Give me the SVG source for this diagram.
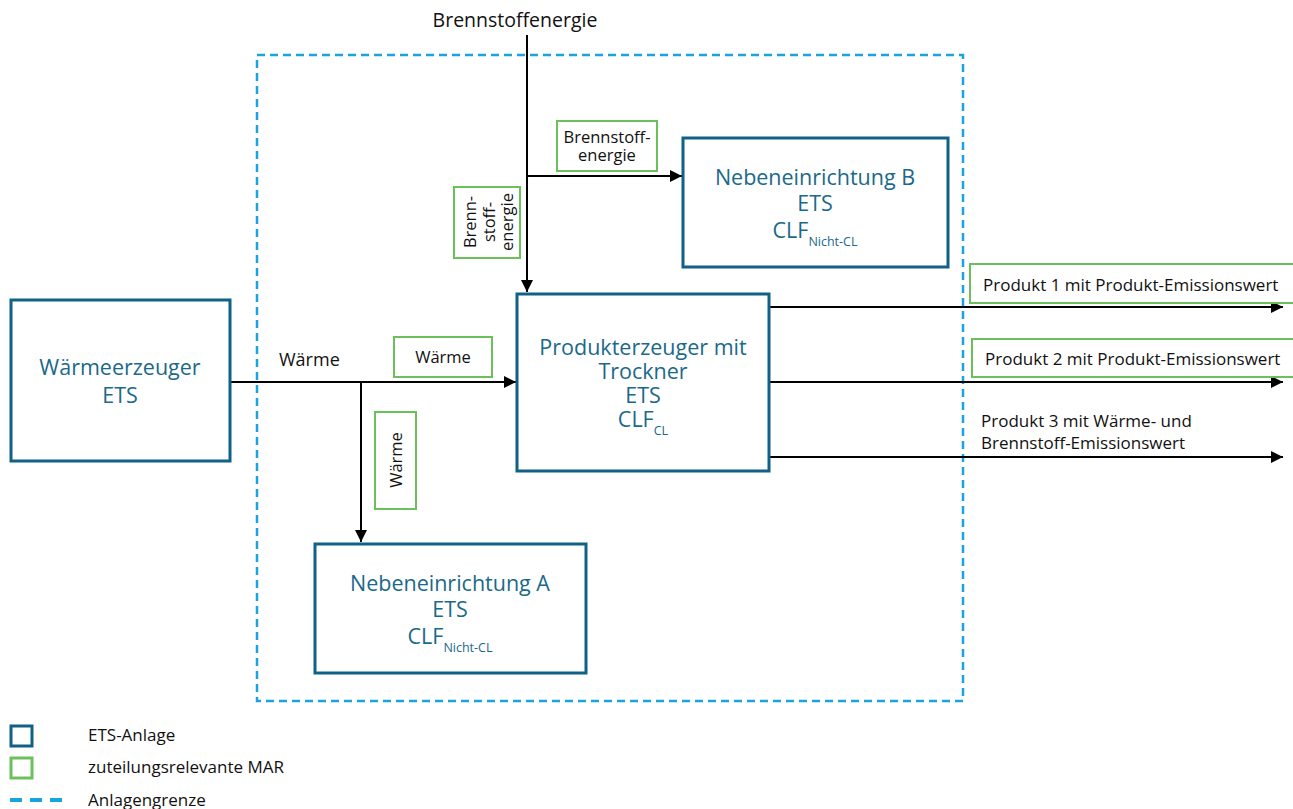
<svg xmlns="http://www.w3.org/2000/svg" width="1293" height="809" viewBox="0 0 1293 809">
  <style>
    text { font-family: "Open Sans", "Noto Sans", sans-serif; }
    .ets { fill: #ffffff; stroke: #0f6286; stroke-width: 3; }
    .mar { fill: #ffffff; stroke: #6cc05c; stroke-width: 2; }
    .bound { fill: none; stroke: #1ba3df; stroke-width: 2.5; stroke-dasharray: 8 5; }
    .flow { fill: none; stroke: #000000; stroke-width: 2; }
    .big { fill: #1a6989; font-size: 21.5px; text-anchor: middle; }
    .sub { font-size: 12.5px; }
    .lbl { fill: #111111; font-size: 17px; }
    .lblc { fill: #111111; font-size: 16.5px; text-anchor: middle; }
  </style>
  <defs>
    <marker id="arrow" viewBox="0 0 12 12" refX="12" refY="6" markerWidth="12" markerHeight="12" markerUnits="userSpaceOnUse" orient="auto">
      <path d="M0,0 L12,6 L0,12 Z" fill="#000000"/>
    </marker>
  </defs>

  <rect width="1293" height="809" fill="#ffffff"/>

  <!-- installation boundary -->
  <rect id="anlagengrenze" class="bound" x="257" y="55" width="706" height="646"/>

  <!-- connectors -->
  <g id="connectors">
    <line class="flow" x1="527" y1="35" x2="527" y2="292" marker-end="url(#arrow)"/>
    <line class="flow" x1="527" y1="176" x2="682" y2="176" marker-end="url(#arrow)"/>
    <line class="flow" x1="231" y1="382" x2="516" y2="382" marker-end="url(#arrow)"/>
    <line class="flow" x1="361" y1="382" x2="361" y2="542" marker-end="url(#arrow)"/>
    <line class="flow" x1="769" y1="307" x2="1283" y2="307" marker-end="url(#arrow)"/>
    <line class="flow" x1="769" y1="382" x2="1283" y2="382" marker-end="url(#arrow)"/>
    <line class="flow" x1="769" y1="457" x2="1283" y2="457" marker-end="url(#arrow)"/>
  </g>

  <!-- flow labels -->
  <text class="lblc" x="515" y="27" style="font-size:19.5px">Brennstoffenergie</text>
  <text class="lbl" x="279" y="366" style="font-size:18px">Wärme</text>
  <text class="lbl" x="981" y="427">Produkt 3 mit Wärme- und</text>
  <text class="lbl" x="981" y="449">Brennstoff-Emissionswert</text>

  <!-- allocation-relevant sub-installation labels -->
  <g id="mar-brennstoff-h">
    <rect class="mar" x="557" y="121" width="100" height="50"/>
    <text class="lblc" x="607" y="143">Brennstoff-</text>
    <text class="lblc" x="607" y="161">energie</text>
  </g>
  <g id="mar-brennstoff-v">
    <rect class="mar" x="454" y="187" width="66" height="71"/>
    <g transform="translate(487,222) rotate(-90)">
      <text class="lblc" x="0" y="-11">Brenn-</text>
      <text class="lblc" x="0" y="8">stoff-</text>
      <text class="lblc" x="0" y="26">energie</text>
    </g>
  </g>
  <g id="mar-waerme-h">
    <rect class="mar" x="394" y="337" width="98" height="40"/>
    <text class="lblc" x="443" y="363">Wärme</text>
  </g>
  <g id="mar-waerme-v">
    <rect class="mar" x="375" y="412" width="41" height="97"/>
    <text class="lblc" transform="translate(402,460) rotate(-90)">Wärme</text>
  </g>
  <g id="mar-produkt1">
    <rect class="mar" x="970" y="264" width="330" height="39"/>
    <text class="lbl" x="983" y="291">Produkt 1 mit Produkt-Emissionswert</text>
  </g>
  <g id="mar-produkt2">
    <rect class="mar" x="972" y="339" width="330" height="38"/>
    <text class="lbl" x="985" y="365">Produkt 2 mit Produkt-Emissionswert</text>
  </g>

  <!-- ETS installations -->
  <g id="waermeerzeuger">
    <rect class="ets" x="11" y="300" width="219" height="161"/>
    <text class="big" x="120" y="375">Wärmeerzeuger</text>
    <text class="big" x="120" y="403">ETS</text>
  </g>
  <g id="produkterzeuger">
    <rect class="ets" x="517" y="294" width="252" height="177"/>
    <text class="big" x="643" y="355">Produkterzeuger mit</text>
    <text class="big" x="643" y="379">Trockner</text>
    <text class="big" x="643" y="403">ETS</text>
    <text class="big" x="643" y="427">CLF<tspan class="sub" dy="8">CL</tspan></text>
  </g>
  <g id="nebeneinrichtung-b">
    <rect class="ets" x="683" y="138" width="265" height="129"/>
    <text class="big" x="815" y="185">Nebeneinrichtung B</text>
    <text class="big" x="815" y="211">ETS</text>
    <text class="big" x="815" y="238">CLF<tspan class="sub" dy="8">Nicht-CL</tspan></text>
  </g>
  <g id="nebeneinrichtung-a">
    <rect class="ets" x="315" y="544" width="271" height="129"/>
    <text class="big" x="450" y="591">Nebeneinrichtung A</text>
    <text class="big" x="450" y="617">ETS</text>
    <text class="big" x="450" y="644">CLF<tspan class="sub" dy="8">Nicht-CL</tspan></text>
  </g>

  <!-- legend -->
  <g id="legend">
    <rect class="ets" x="11" y="726" width="21" height="20"/>
    <rect x="11" y="758" width="21" height="20" fill="#ffffff" stroke="#6cc05c" stroke-width="3"/>
    <line x1="10" y1="800" x2="68" y2="800" stroke="#1ba3df" stroke-width="4" stroke-dasharray="12 8"/>
    <text class="lbl" x="88" y="741">ETS-Anlage</text>
    <text class="lbl" x="88" y="773">zuteilungsrelevante MAR</text>
    <text class="lbl" x="88" y="806">Anlagengrenze</text>
  </g>
</svg>
